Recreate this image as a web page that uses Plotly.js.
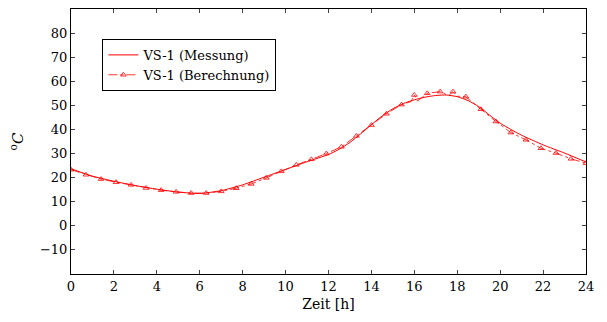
<!DOCTYPE html>
<html>
<head>
<meta charset="utf-8">
<script src="https://cdn.plot.ly/plotly-3.0.1.min.js"></script>
<style>html,body{margin:0;padding:0;background:#fff;}#chart{width:607px;height:322px;}</style>
</head>
<body>
<div id="chart"></div>
<script>
// Measured series (solid)
const measHours = [0, 1, 2, 3, 4, 5, 6, 7, 8, 9, 10, 11, 12, 12.5, 13, 13.5, 14, 14.5, 15, 15.5, 16, 16.5, 17, 17.5, 18, 18.5, 19, 19.5, 20, 20.5, 21, 22, 23, 24];
const measTemp  = [23.7, 20.6, 18.5, 16.7, 15.2, 14.0, 13.4, 14.6, 17.0, 20.2, 23.4, 26.6, 29.6, 31.8, 34.6, 38.2, 42.0, 45.6, 48.6, 50.8, 52.3, 53.4, 54.1, 54.3, 53.6, 52.0, 49.5, 46.0, 42.6, 40.0, 37.6, 33.6, 30.2, 26.5];

// Calculated series (dash-dot line)
const calcHours = [0, 0.7, 1.4, 2.1, 2.8, 3.5, 4.2, 4.9, 5.6, 6.3, 7.0, 7.7, 8.4, 9.1, 9.8, 10.5, 11.2, 11.9, 12.6, 13.3, 14.0, 14.7, 15.4, 15.85, 16.0, 16.15, 16.6, 17.2, 17.6, 17.8, 18.0, 18.4, 19.1, 19.8, 20.5, 21.2, 21.9, 22.6, 23.3, 24.0];
const calcTemp  = [23.3, 21.2, 19.4, 18.1, 17.0, 15.7, 14.8, 14.1, 13.6, 13.6, 14.3, 15.6, 17.4, 19.9, 22.6, 25.3, 27.6, 30.0, 32.8, 37.3, 41.8, 46.5, 50.3, 51.6, 54.3, 51.8, 55.0, 55.7, 54.0, 55.7, 53.8, 53.6, 48.4, 43.3, 38.7, 35.7, 32.2, 30.2, 27.8, 26.0];
// Calculated series markers (every mark position)
const calcMarkHours = [0, 0.7, 1.4, 2.1, 2.8, 3.5, 4.2, 4.9, 5.6, 6.3, 7.0, 7.7, 8.4, 9.1, 9.8, 10.5, 11.2, 11.9, 12.6, 13.3, 14.0, 14.7, 15.4, 16.0, 16.6, 17.2, 17.8, 18.4, 19.1, 19.8, 20.5, 21.2, 21.9, 22.6, 23.3, 24.0];
const calcMarkTemp  = [23.3, 21.2, 19.4, 18.1, 17.0, 15.7, 14.8, 14.1, 13.6, 13.6, 14.3, 15.6, 17.4, 19.9, 22.6, 25.3, 27.6, 30.0, 32.8, 37.3, 41.8, 46.5, 50.3, 54.3, 55.0, 55.7, 55.7, 53.6, 48.4, 43.3, 38.7, 35.7, 32.2, 30.2, 27.8, 26.0];

const xTicks = [0, 2, 4, 6, 8, 10, 12, 14, 16, 18, 20, 22, 24];
const yTicks = [-10, 0, 10, 20, 30, 40, 50, 60, 70, 80];

const red = 'rgb(255,0,0)';
const fontFam = 'DejaVu Serif';

const traces = [
  {x: measHours, y: measTemp, mode: 'lines', name: 'VS-1 (Messung)',
   line: {color: red, width: 1, shape: 'spline', smoothing: 0.5}},
  {x: calcHours, y: calcTemp, mode: 'lines', showlegend: false,
   line: {color: red, width: 0.8, dash: 'dashdot'}},
  {x: calcMarkHours, y: calcMarkTemp, mode: 'markers', showlegend: false,
   marker: {symbol: 'triangle-up-open', size: 5, color: red, line: {color: red, width: 0.8}}},
  {x: [null], y: [null], mode: 'lines+markers', name: 'VS-1 (Berechnung)',
   line: {color: red, width: 0.8, dash: 'dashdot'},
   marker: {symbol: 'triangle-up-open', size: 5, color: red, line: {color: red, width: 0.8}}}
];

const axisCommon = {
  showgrid: false, zeroline: false, showline: true, linecolor: '#000', linewidth: 1,
  mirror: 'ticks', ticks: 'inside', ticklen: 4, tickcolor: '#444', tickwidth: 1,
  tickfont: {family: fontFam, size: 13, color: '#000'}
};

const layout = {
  width: 607, height: 322,
  margin: {l: 71, r: 21, t: 9, b: 48},
  paper_bgcolor: '#fff', plot_bgcolor: '#fff',
  font: {family: fontFam, color: '#000'},
  xaxis: Object.assign({}, axisCommon, {
    range: [0, 24], tickvals: xTicks, ticktext: xTicks.map(String),
    title: {text: 'Zeit [h]', font: {family: fontFam, size: 14, color: '#000'}, standoff: 6}
  }),
  yaxis: Object.assign({}, axisCommon, {
    range: [-20, 90], tickvals: yTicks, ticktext: yTicks.map(v => v < 0 ? '\u2212' + Math.abs(v) : String(v)),
    title: {text: '<sup>o</sup><i>C</i>', font: {family: fontFam, size: 15, color: '#000'}, standoff: 12}
  }),
  legend: {
    x: 0.061, y: 0.887, xanchor: 'left', yanchor: 'top',
    bgcolor: '#fff', bordercolor: '#000', borderwidth: 1,
    font: {family: fontFam, size: 13, color: '#000'},
    tracegroupgap: 0, itemwidth: 30
  },
  showlegend: true
};

Plotly.newPlot('chart', traces, layout, {displayModeBar: false, staticPlot: true});
</script>
</body>
</html>
